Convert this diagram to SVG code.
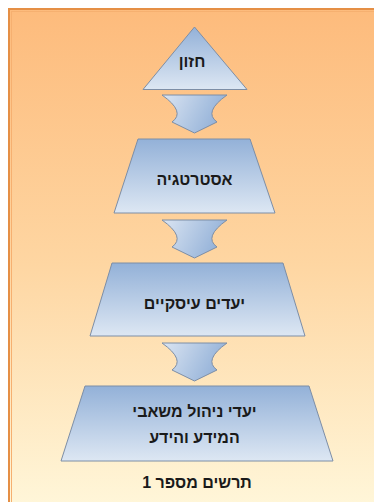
<svg xmlns="http://www.w3.org/2000/svg" width="374" height="502" viewBox="0 0 374 502">
<defs>
<linearGradient id="bg" x1="0" y1="0" x2="0" y2="1">
<stop offset="0" stop-color="#fdbb7c"/>
<stop offset="0.5" stop-color="#fed6a2"/>
<stop offset="1" stop-color="#fff8dc"/>
</linearGradient>
<linearGradient id="shape" x1="0" y1="0" x2="0" y2="1">
<stop offset="0" stop-color="#93b1d8"/>
<stop offset="1" stop-color="#dde7f3"/>
</linearGradient>
<linearGradient id="arrow" x1="0" y1="0" x2="1" y2="0.3">
<stop offset="0" stop-color="#dbe5f2"/>
<stop offset="1" stop-color="#93b1d8"/>
</linearGradient>
<path id="arr" d="M162,0 L227,0 Q203,17 217,27 L194.5,38 L172,27 Q186,17 162,0 Z"/>
</defs>
<style>
.node{fill:url(#shape);stroke:#7d8ea6;stroke-width:1}
.conn{fill:url(#arrow);stroke:#7d8ea6;stroke-width:1}
.t{font-family:"Liberation Sans",Arial,sans-serif;font-weight:bold;font-size:16px;fill:#1a1a1a;text-anchor:middle;direction:rtl}
</style>
<rect x="0" y="0" width="374" height="502" fill="#ffffff"/>
<rect x="9" y="9" width="380" height="510" fill="url(#bg)" stroke="#e58f45" stroke-width="2"/>
<line x1="11.5" y1="11" x2="11.5" y2="502" stroke="#f6b070" stroke-width="1"/>
<line x1="11" y1="11.5" x2="374" y2="11.5" stroke="#f6b070" stroke-width="1"/>
<g id="connectors">
<use href="#arr" class="conn" transform="translate(0,95)"/>
<use href="#arr" class="conn" transform="translate(0,220)"/>
<use href="#arr" class="conn" transform="translate(0,343)"/>
</g>
<g id="vision">
<polygon class="node" points="194.5,27 247,89.5 143,89.5"/>
<text class="t" x="192" y="67">חזון</text>
</g>
<g id="strategy">
<polygon class="node" points="138,139 250,139 275,213 114,213"/>
<text class="t" x="194.5" y="185">אסטרטגיה</text>
</g>
<g id="business-goals">
<polygon class="node" points="112,263 283,263 305,336 90,336"/>
<text class="t" x="194.5" y="309">יעדים עיסקיים</text>
</g>
<g id="it-goals">
<polygon class="node" points="85,386 309,386 333,461 61,461"/>
<text class="t" x="194.5" y="417">יעדי ניהול משאבי</text>
<text class="t" x="194.5" y="443">המידע והידע</text>
</g>
<g id="caption">
<text class="t" x="197" y="488">תרשים מספר 1</text>
</g>
</svg>
